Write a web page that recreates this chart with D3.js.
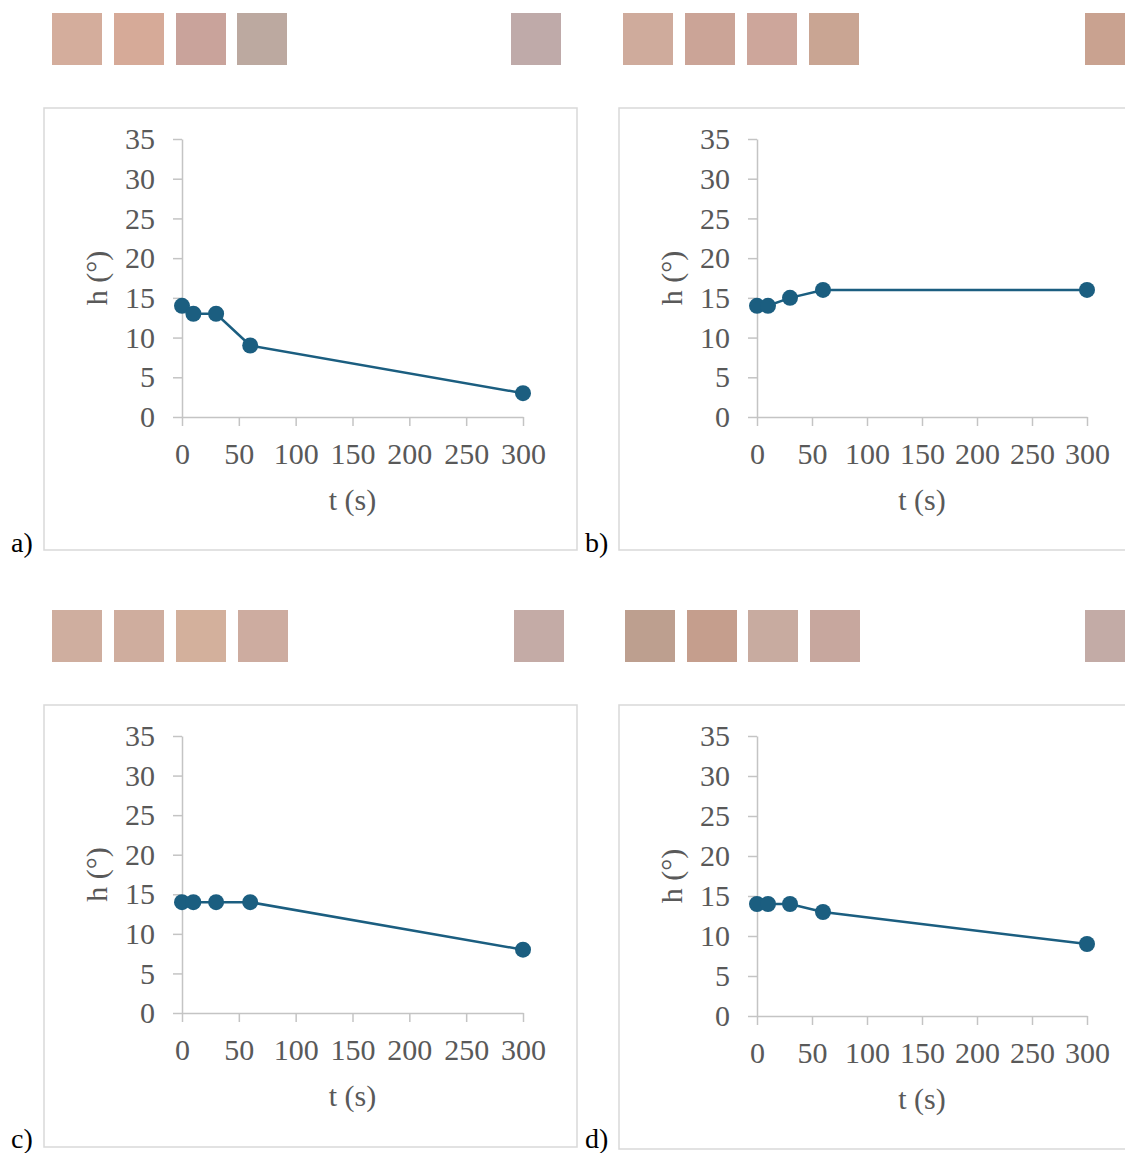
<!DOCTYPE html>
<html>
  <head>
    <meta charset="utf-8" />
    <title>Hue vs time</title>
    <script src="https://d3js.org/d3.v7.min.js"></script>
    <style>
      body { margin: 0; background: #fff; }
      text { font-family: "Liberation Serif", "Times New Roman", serif; }
    </style>
  </head>
  <body>
    <svg id="chart"></svg>
    <script>
      // data
      var times = [0, 10, 30, 60, 300];
      var hA = [14, 13, 13, 9, 3];
      var hB = [14, 14, 15, 16, 16];
      var hC = [14, 14, 14, 14, 8];
      var hD = [14, 14, 14, 13, 9];
      var xTicks = [0, 50, 100, 150, 200, 250, 300];
      var yTicks = [0, 5, 10, 15, 20, 25, 30, 35];
      var panelLabels = ["a)", "b)", "c)", "d)"];
      var swatchA = ["#d4ad9c", "#d6aa98", "#c9a39b", "#bca9a0", "#bfaaa9"];
      var swatchB = ["#cfab9c", "#cba497", "#cda69b", "#c9a593", "#c9a290"];
      var swatchC = ["#cfae9f", "#cfad9e", "#d3b09c", "#cdaca0", "#c4aba6"];
      var swatchD = ["#bd9f8f", "#c59e8d", "#c8aba0", "#c7a79e", "#c3aba6"];

      var width = 1125, height = 1153;
      var svg = d3.select("#chart").attr("width", width).attr("height", height);

      var lineColor = "#1b5e80";
      var textColor = "#595959";
      var axisColor = "#c4c4c4";

      // layout for each panel
      var panels = [
        {h: hA, sw: swatchA, swX: [52, 114, 176, 237, 511], swY: 13,
         box: [44, 108, 533, 442], x0: 182, x1: 523, yTop: 139, yBot: 417, lab: [11, 552]},
        {h: hB, sw: swatchB, swX: [623, 685, 747, 809, 1085], swY: 13,
         box: [619, 108, 530, 442], x0: 757, x1: 1087, yTop: 139, yBot: 417, lab: [585, 552]},
        {h: hC, sw: swatchC, swX: [52, 114, 176, 238, 514], swY: 610,
         box: [44, 705, 533, 442], x0: 182, x1: 523, yTop: 736, yBot: 1013, lab: [11, 1148]},
        {h: hD, sw: swatchD, swX: [625, 687, 748, 810, 1085], swY: 610,
         box: [619, 705, 530, 444], x0: 757, x1: 1087, yTop: 736, yBot: 1016, lab: [585, 1148]}
      ];

      panels.forEach(function(p, i) {
        var g = svg.append("g");

        // colour swatches
        g.selectAll(".sw")
          .data(p.sw)
          .enter().append("rect")
          .attr("x", function(d, j) { return p.swX[j]; })
          .attr("y", p.swY)
          .attr("width", 50)
          .attr("height", 52)
          .attr("fill", function(d) { return d; });

        // frame
        g.append("rect")
          .attr("x", p.box[0]).attr("y", p.box[1])
          .attr("width", p.box[2]).attr("height", p.box[3])
          .attr("fill", "none")
          .attr("stroke", "#d9d9d9")
          .attr("stroke-width", 1.5);

        var x = d3.scaleLinear().domain([0, 300]).range([p.x0, p.x1]);
        var y = d3.scaleLinear().domain([0, 35]).range([p.yBot, p.yTop]);

        var yAxis = d3.axisLeft(y).tickValues(yTicks).tickSize(9).tickSizeOuter(0).tickPadding(18);
        var xAxis = d3.axisBottom(x).tickValues(xTicks).tickSize(9).tickSizeOuter(0).tickPadding(17);

        var gy = g.append("g").attr("transform", "translate(" + p.x0 + ",0)").call(yAxis);
        var gx = g.append("g").attr("transform", "translate(0," + p.yBot + ")").call(xAxis);

        [gx, gy].forEach(function(ax) {
          ax.select(".domain").attr("stroke", axisColor).attr("stroke-width", 1.5);
          ax.selectAll(".tick line").attr("stroke", axisColor).attr("stroke-width", 1.5);
          ax.selectAll(".tick text")
            .attr("fill", textColor)
            .style("font-size", "30px")
            .style("font-family", "'Liberation Serif', 'Times New Roman', serif");
        });

        // axis titles
        g.append("text")
          .attr("x", (p.x0 + p.x1) / 2)
          .attr("y", p.yBot + 93)
          .attr("text-anchor", "middle")
          .attr("fill", textColor)
          .style("font-size", "30px")
          .text("t (s)");

        g.append("text")
          .attr("transform", "translate(" + (p.x0 - 75) + "," + ((p.yTop + p.yBot) / 2) + ") rotate(-90)")
          .attr("text-anchor", "middle")
          .attr("fill", textColor)
          .style("font-size", "30px")
          .text("h (°)");

        // line + markers
        var pts = times.map(function(t, j) { return [t, p.h[j]]; });
        var line = d3.line()
          .x(function(d) { return x(d[0]); })
          .y(function(d) { return y(d[1]); });

        g.append("path")
          .datum(pts)
          .attr("d", line)
          .attr("fill", "none")
          .attr("stroke", lineColor)
          .attr("stroke-width", 2.5);

        g.selectAll(".pt")
          .data(pts)
          .enter().append("circle")
          .attr("cx", function(d) { return x(d[0]); })
          .attr("cy", function(d) { return y(d[1]); })
          .attr("r", 8)
          .attr("fill", lineColor);

        // panel letter
        g.append("text")
          .attr("x", p.lab[0])
          .attr("y", p.lab[1])
          .attr("fill", "#000")
          .style("font-size", "28px")
          .text(panelLabels[i]);
      });
    </script>
  </body>
</html>
